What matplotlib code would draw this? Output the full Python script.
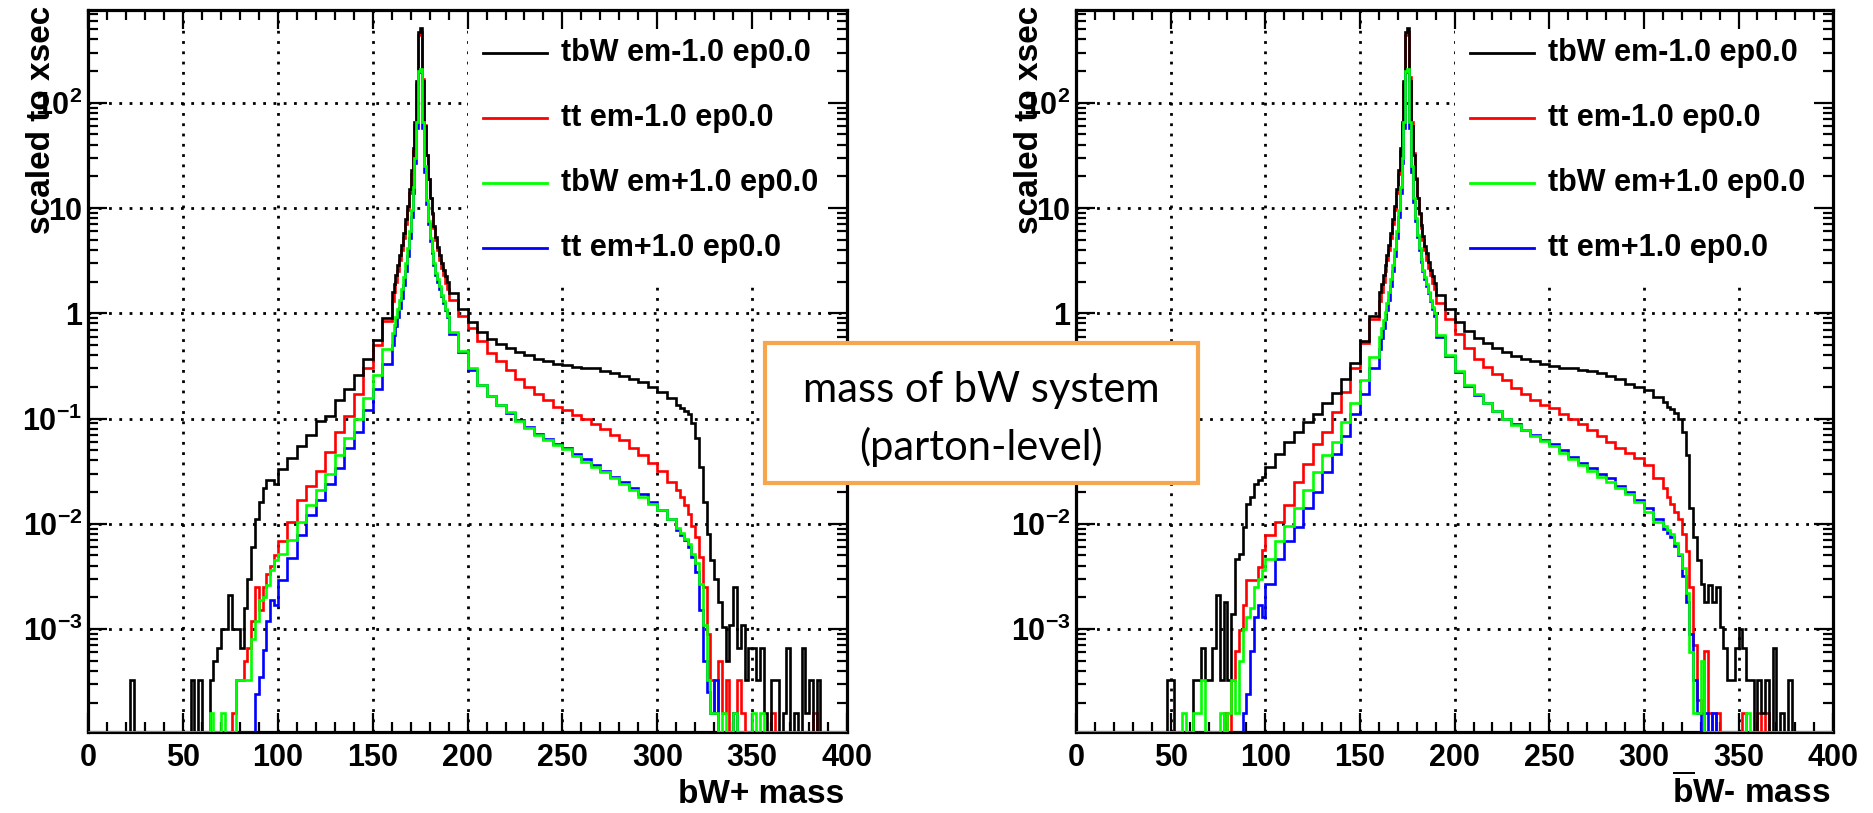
import matplotlib
matplotlib.use('Agg')
import matplotlib.pyplot as plt
from matplotlib.patches import Rectangle
from matplotlib.lines import Line2D
from matplotlib.ticker import MultipleLocator, LogLocator, FixedLocator, FixedFormatter, NullFormatter
import numpy as np

plt.rcParams['font.family'] = ['Liberation Sans', 'DejaVu Sans']
plt.rcParams['font.weight'] = 'bold'
plt.rcParams['mathtext.fontset'] = 'custom'
plt.rcParams['mathtext.rm'] = 'Liberation Sans:bold'
plt.rcParams['mathtext.bf'] = 'Liberation Sans:bold'
plt.rcParams['mathtext.it'] = 'Liberation Sans:bold'

# bin edges in GeV: 2 GeV below 100, 5 GeV to 160, 1 GeV around the peak, 5 GeV to 310, 2 GeV above
edges = np.concatenate([np.arange(0, 100, 2), np.arange(100, 160, 5), np.arange(160, 190, 1),
                        np.arange(190, 310, 5), np.arange(310, 401, 2)])

labels = ['tbW em-1.0 ep0.0', 'tt em-1.0 ep0.0', 'tbW em+1.0 ep0.0', 'tt em+1.0 ep0.0']
colors = ['#000000', '#ff0000', '#00ff00', '#0000ff']

y_ticks = [1e-3, 1e-2, 1e-1, 1, 10, 100]
y_ticklabels = [r'$\mathrm{10^{-3}}$', r'$\mathrm{10^{-2}}$', r'$\mathrm{10^{-1}}$', '1', '10', r'$\mathrm{10^{2}}$']

note_lines = ['mass of bW system', '(parton-level)']

# ---- left panel : bW+ mass ----
tbw_m_L = [
    0, 0, 0, 0, 0, 0, 0, 0, 0, 0, 0, 3.3e-4, 0, 0, 0, 0, 0, 0, 0, 0, 0, 0, 0, 0, 0, 0, 0,
    3.3e-4, 0, 3.3e-4, 0, 0, 3.3e-4, 5e-4, 6.6e-4, 1e-3, 1e-3, 2.1e-3, 1e-3, 1e-3, 6.6e-4, 1.6e-3,
    3e-3, 6e-3, 0.011, 0.016, 0.022, 0.026, 0.026, 0.024,
    0.033, 0.042, 0.055, 0.07, 0.095, 0.105, 0.15, 0.19, 0.26, 0.37, 0.56, 0.9,
    1.6, 1.9, 2.3, 2.9, 3.6, 4.5, 5.8, 7.8, 10.5, 15, 23, 37, 65, 160, 470, 510, 160, 60, 32, 19,
    12.5, 9, 6.8, 5.3, 4.3, 3.6, 3.0, 2.6, 2.25, 2.0,
    1.55, 1.1, 0.82, 0.66, 0.57, 0.51, 0.47, 0.43, 0.4, 0.37, 0.35, 0.33,
    0.32, 0.31, 0.305, 0.3, 0.285, 0.27, 0.255, 0.24, 0.22, 0.2, 0.18, 0.155,
    0.135, 0.125, 0.118, 0.11, 0.09, 0.065, 0.035, 0.016, 0.008, 0.0045, 0.003, 0.0018, 1.05e-3,
    5e-4, 1.1e-3, 2.5e-3, 6.6e-4, 1.1e-3, 3.3e-4, 6.6e-4, 6.6e-4, 3.3e-4, 6.6e-4, 1.6e-4, 0,
    3.3e-4, 3.3e-4, 0, 1.6e-4, 6.6e-4, 0, 1.6e-4, 0, 6.6e-4, 1.6e-4, 3.3e-4, 0, 3.3e-4, 0,
    0, 0, 0, 0, 0, 0,
]
tt_m_L = [
    0, 0, 0, 0, 0, 0, 0, 0, 0, 0, 0, 0, 0, 0, 0, 0, 0, 0, 0, 0, 0, 0, 0, 0, 0, 0, 0, 0, 0, 0,
    0, 0, 0, 0, 0, 0, 0, 0,
    1.6e-4, 3.3e-4, 3.3e-4, 5e-4, 6.6e-4, 1.2e-3, 2.5e-3, 1.5e-3, 2.5e-3, 3.3e-3, 4e-3, 5e-3,
    0.0068, 0.0105, 0.017, 0.023, 0.032, 0.048, 0.074, 0.105, 0.17, 0.3, 0.5, 0.85,
    1.3, 1.6, 2.0, 2.5, 3.2, 4.0, 5.2, 7.0, 9.5, 14, 21, 35, 62, 150, 440, 470, 170, 62, 32, 19,
    12.5, 8.8, 6.5, 5.0, 4.0, 3.2, 2.7, 2.3, 1.95, 1.7,
    1.34, 0.95, 0.72, 0.54, 0.42, 0.35, 0.29, 0.235, 0.2, 0.17, 0.15, 0.13,
    0.12, 0.108, 0.098, 0.089, 0.08, 0.07, 0.062, 0.053, 0.045, 0.038, 0.032, 0.025,
    0.021, 0.018, 0.015, 0.0125, 0.0095, 0.0075, 0.0048, 0.0025, 9e-4, 3.3e-4, 1.6e-4, 5e-4,
    1.6e-4, 3.3e-4, 0, 1.6e-4, 3.3e-4, 1.6e-4, 0, 0, 0, 0, 0, 0, 0, 1.6e-4,
    0, 0, 0, 0, 0, 0, 0, 0, 0, 0, 1.6e-4, 0, 0, 0, 0, 0, 0, 0, 0,
]
tbw_p_L = [
    0, 0, 0, 0, 0, 0, 0, 0, 0, 0, 0, 0, 0, 0, 0, 0, 0, 0, 0, 0, 0, 0, 0, 0, 0, 0, 0, 0, 0, 0,
    0, 0, 1.6e-4, 0, 0, 1.6e-4, 0, 0, 0, 3.3e-4, 3.3e-4, 3.3e-4, 3.3e-4, 8e-4, 1.2e-3, 1.9e-3,
    2e-3, 2.6e-3, 3.6e-3, 4.5e-3,
    5.2e-3, 7e-3, 0.0105, 0.015, 0.021, 0.03, 0.045, 0.066, 0.1, 0.155, 0.26, 0.46,
    0.65, 0.78, 0.92, 1.1, 1.35, 1.7, 2.2, 3.0, 4.2, 6.0, 9.5, 16, 30, 65, 200, 211, 65, 25, 12, 7.5,
    5.2, 3.9, 3.0, 2.4, 2.1, 1.8, 1.5, 1.3, 1.1, 0.95,
    0.66, 0.44, 0.3, 0.21, 0.165, 0.135, 0.115, 0.095, 0.082, 0.07, 0.063, 0.056,
    0.051, 0.044, 0.039, 0.035, 0.031, 0.027, 0.024, 0.021, 0.018, 0.0155, 0.0135, 0.0112,
    0.0092, 0.0082, 0.0072, 0.0064, 0.0052, 0.0042, 0.0027, 1.1e-3, 3.3e-4, 1.6e-4, 1.6e-4, 0,
    1.6e-4, 0, 0, 1.6e-4, 0, 0, 0, 0, 1.6e-4, 0, 1.6e-4,
    0, 0, 0, 0, 0, 0, 0, 0, 0, 0, 0, 0, 0, 0, 0, 0, 0, 0, 0, 0, 0, 0,
]
tt_p_L = [
    0, 0, 0, 0, 0, 0, 0, 0, 0, 0, 0, 0, 0, 0, 0, 0, 0, 0, 0, 0, 0, 0, 0, 0, 0, 0, 0, 0, 0, 0,
    0, 0, 0, 0, 0, 0, 0, 0, 0, 0, 0, 0, 0, 0,
    2.4e-4, 3.5e-4, 6.3e-4, 1.2e-3, 1.9e-3, 1.7e-3,
    2.9e-3, 4.7e-3, 7.8e-3, 0.012, 0.017, 0.024, 0.034, 0.052, 0.075, 0.12, 0.19, 0.33,
    0.5, 0.62, 0.76, 0.92, 1.12, 1.4, 1.85, 2.5, 3.5, 5.2, 8.2, 14, 27, 58, 195, 205, 58, 22, 11, 7,
    4.9, 3.7, 2.9, 2.3, 2.0, 1.7, 1.45, 1.25, 1.07, 0.92,
    0.64, 0.43, 0.29, 0.21, 0.165, 0.135, 0.114, 0.096, 0.083, 0.071, 0.064, 0.057,
    0.052, 0.046, 0.041, 0.036, 0.032, 0.028, 0.025, 0.022, 0.019, 0.016, 0.0135, 0.011,
    0.0088, 0.0078, 0.007, 0.006, 0.0048, 0.0035, 0.0015, 5e-4, 2.5e-4, 1.6e-4, 3.3e-4, 0,
    0, 0, 0, 1.6e-4,
    0, 0, 0, 0, 0, 0, 0, 0, 0, 0, 0, 0, 0, 0, 0, 0, 0, 0, 0, 0, 0, 0, 0, 0, 0, 0, 0, 0, 0,
]

# ---- right panel : bbarW- mass ----
tbw_m_R = [
    0, 0, 0, 0, 0, 0, 0, 0, 0, 0, 0, 0, 0, 0, 0, 0, 0, 0, 0, 0, 0, 0, 0, 0,
    3.3e-4, 3.3e-4, 0, 0, 0, 0, 0, 3.3e-4, 3.3e-4, 6.6e-4, 3.3e-4, 3.3e-4, 6.6e-4, 2.1e-3,
    3.3e-4, 1.8e-3, 3.3e-4, 1.4e-3, 4.6e-3, 5.2e-3, 9.3e-3, 0.0155, 0.018, 0.024, 0.026, 0.028,
    0.035, 0.046, 0.06, 0.075, 0.093, 0.11, 0.14, 0.175, 0.24, 0.34, 0.55, 0.95,
    1.6, 1.9, 2.3, 2.9, 3.6, 4.5, 5.8, 7.8, 10.5, 15, 23, 37, 65, 160, 470, 510, 160, 60, 32, 19,
    12.5, 9, 6.9, 5.4, 4.4, 3.7, 3.1, 2.6, 2.25, 1.95,
    1.5, 1.1, 0.83, 0.68, 0.58, 0.52, 0.47, 0.43, 0.39, 0.37, 0.35, 0.33,
    0.315, 0.305, 0.3, 0.29, 0.28, 0.27, 0.255, 0.235, 0.215, 0.2, 0.185, 0.16,
    0.145, 0.13, 0.122, 0.112, 0.1, 0.075, 0.045, 0.014, 0.0075, 0.0045, 0.0027, 0.0018, 0.0026,
    1.8e-3, 2.5e-3, 1.05e-3, 6.6e-4, 3.3e-4, 3.3e-4, 6.6e-4, 1e-3, 6.6e-4, 3.3e-4, 3.3e-4, 0,
    3.3e-4, 1.6e-4, 3.3e-4, 0, 6.6e-4, 0, 1.6e-4, 0, 3.3e-4,
    0, 0, 0, 0, 0, 0, 0, 0, 0, 0, 0,
]
tt_m_R = [
    0, 0, 0, 0, 0, 0, 0, 0, 0, 0, 0, 0, 0, 0, 0, 0, 0, 0, 0, 0, 0, 0, 0, 0, 0, 0, 0, 0, 0, 0,
    0, 0, 0, 0, 0, 0, 0, 0, 0,
    1.6e-4, 0, 3.3e-4, 6.2e-4, 9.7e-4, 1.7e-3, 2.9e-3, 2.9e-3, 2.9e-3, 3.9e-3, 5.6e-3,
    0.0078, 0.0105, 0.015, 0.025, 0.037, 0.057, 0.075, 0.115, 0.18, 0.3, 0.52, 0.88,
    1.3, 1.6, 2.0, 2.5, 3.2, 4.0, 5.2, 7.0, 9.5, 14, 21, 35, 62, 150, 440, 470, 175, 65, 33, 19.5,
    12.5, 8.8, 6.5, 5.0, 4.0, 3.2, 2.7, 2.3, 1.95, 1.7,
    1.25, 0.88, 0.64, 0.47, 0.37, 0.31, 0.265, 0.23, 0.195, 0.17, 0.15, 0.135,
    0.125, 0.11, 0.1, 0.088, 0.078, 0.068, 0.06, 0.052, 0.047, 0.042, 0.036, 0.027,
    0.022, 0.018, 0.0155, 0.013, 0.011, 0.008, 0.0055, 0.0025, 7e-4, 2.1e-4, 1.6e-4, 6.2e-4,
    1.6e-4, 0, 1.6e-4, 0, 0, 0, 0, 0, 0, 1.6e-4, 0, 0, 0, 1.6e-4, 0, 1.6e-4,
    0, 0, 0, 0, 0, 0, 0, 0, 0, 0, 0, 0, 0, 0, 0, 0, 0,
]
tbw_p_R = [
    0, 0, 0, 0, 0, 0, 0, 0, 0, 0, 0, 0, 0, 0, 0, 0, 0, 0, 0, 0, 0, 0, 0, 0, 0, 0, 0, 0,
    1.6e-4, 0, 0, 1.6e-4, 1.6e-4, 3.3e-4, 0, 0, 0, 0, 1.6e-4, 0, 1.6e-4, 3.3e-4, 1.6e-4, 5e-4,
    1e-3, 1.3e-3, 1.6e-3, 2.5e-3, 3e-3, 3.6e-3,
    4.6e-3, 6.8e-3, 0.0095, 0.014, 0.021, 0.031, 0.045, 0.06, 0.092, 0.14, 0.23, 0.38,
    0.6, 0.72, 0.86, 1.02, 1.25, 1.6, 2.1, 2.9, 4.1, 6.0, 9.5, 16, 30, 65, 200, 211, 65, 25, 12.5, 8,
    5.6, 4.2, 3.3, 2.6, 2.2, 1.9, 1.6, 1.35, 1.15, 1.0,
    0.62, 0.4, 0.28, 0.21, 0.17, 0.14, 0.117, 0.1, 0.087, 0.077, 0.068, 0.061,
    0.055, 0.047, 0.041, 0.036, 0.032, 0.028, 0.025, 0.022, 0.019, 0.016, 0.013, 0.0105,
    0.0095, 0.0087, 0.008, 0.0065, 0.0052, 0.0038, 0.0022, 6e-4, 1.6e-4, 1.6e-4, 5e-4,
    0, 0, 0, 0, 0, 0, 0, 0, 0, 0, 0, 1.6e-4,
    0, 0, 0, 0, 0, 0, 0, 0, 0, 0, 0, 0, 0, 0, 0, 0, 0, 0, 0, 0, 0, 0,
]
tt_p_R = [
    0, 0, 0, 0, 0, 0, 0, 0, 0, 0, 0, 0, 0, 0, 0, 0, 0, 0, 0, 0, 0, 0, 0, 0, 0, 0, 0, 0, 0, 0,
    0, 0, 0, 0, 0, 0, 0, 0, 0, 0, 0, 0, 0, 0,
    1.6e-4, 2.4e-4, 6.2e-4, 1.3e-3, 1.7e-3, 1.3e-3,
    2.7e-3, 4.6e-3, 6.8e-3, 9.3e-3, 0.014, 0.02, 0.031, 0.046, 0.068, 0.11, 0.17, 0.3,
    0.46, 0.58, 0.72, 0.88, 1.08, 1.35, 1.8, 2.5, 3.5, 5.2, 8.2, 14, 27, 58, 195, 205, 58, 22, 11.5, 7.5,
    5.3, 4.0, 3.1, 2.5, 2.1, 1.8, 1.55, 1.3, 1.1, 0.95,
    0.6, 0.39, 0.275, 0.205, 0.168, 0.14, 0.118, 0.1, 0.088, 0.078, 0.07, 0.063,
    0.057, 0.05, 0.043, 0.038, 0.034, 0.03, 0.027, 0.023, 0.02, 0.017, 0.014, 0.011,
    0.009, 0.0082, 0.0075, 0.0062, 0.005, 0.0032, 0.0018, 9e-4, 3.3e-4, 1.6e-4, 0, 1.6e-4, 0, 1.6e-4,
    0, 0, 0, 0, 0, 0, 0, 0, 0, 0, 0, 0, 0, 0, 0, 0, 0, 0, 0, 0, 0, 0, 0, 0, 0, 0, 0, 0, 0, 0, 0,
]

y_min, y_max = 1.05e-4, 760


def draw_panel(ax, series, xlabel):
    ax.set_yscale('log')
    ax.set_xlim(0, 400)
    ax.set_ylim(y_min, y_max)

    # histograms, drawn red, black, blue, green (green on top)
    for idx in [1, 0, 3, 2]:
        v = np.asarray(series[idx], dtype=float)
        ax.stairs(np.where(v > 0, v, y_min), edges, color=colors[idx], lw=1.9,
                  baseline=None, zorder=3)

    ax.xaxis.set_major_locator(MultipleLocator(50))
    ax.xaxis.set_minor_locator(MultipleLocator(10))
    ax.yaxis.set_major_locator(FixedLocator(y_ticks))
    ax.yaxis.set_major_formatter(FixedFormatter(y_ticklabels))
    ax.yaxis.set_minor_locator(LogLocator(base=10, subs=np.arange(2, 10), numticks=30))
    ax.yaxis.set_minor_formatter(NullFormatter())
    ax.tick_params(which='both', direction='in', top=True, right=True, width=1.6)
    ax.tick_params(which='major', length=14)
    ax.tick_params(which='minor', length=7)
    ax.tick_params(axis='x', which='major', labelsize=22, pad=8)
    ax.tick_params(axis='y', which='major', labelsize=22, pad=4)
    for sp in ax.spines.values():
        sp.set_linewidth(2.3)

    # dotted grid (below the legend box)
    for xv in ax.get_xticks():
        if 0 < xv < 400:
            ax.axvline(xv, color='k', lw=2.0, ls=(0, (1, 2.7)), zorder=0.5)
    for yv in y_ticks:
        ax.axhline(yv, color='k', lw=2.0, ls=(0, (1, 2.7)), zorder=0.5)

    # legend box
    ax.add_patch(Rectangle((0.5, 0.622), 0.5, 0.378, transform=ax.transAxes,
                           facecolor='white', edgecolor='none', zorder=1))
    for i, (lab, col) in enumerate(zip(labels, colors)):
        y = 0.941 - i * 0.0903
        ax.add_line(Line2D([0.52, 0.605], [y, y], transform=ax.transAxes, color=col, lw=2, zorder=5))
        ax.text(0.6235, y, lab, transform=ax.transAxes, ha='left', va='center', fontsize=22, zorder=5)

    ax.set_ylabel('scaled to xsec', loc='top', fontsize=24, fontweight='bold')
    ax.yaxis.set_label_coords(-0.041, 1.0055)
    ax.set_xlabel(xlabel, loc='right', fontsize=24, fontweight='bold', va='baseline')
    ax.xaxis.set_label_coords(0.996, -0.099)


fig = plt.figure(figsize=(18.74, 8.13), dpi=100)
ax1 = fig.add_axes([0.047, 0.0996, 0.405, 0.888])
ax2 = fig.add_axes([0.5742, 0.0996, 0.404, 0.888])

draw_panel(ax1, [tbw_m_L, tt_m_L, tbw_p_L, tt_p_L], 'bW+ mass')
draw_panel(ax2, [tbw_m_R, tt_m_R, tbw_p_R, tt_p_R], r'$\overline{\mathrm{b}}$W- mass')

# annotation box laid over both panels
fig.patches.append(Rectangle((0.4082, 0.4059), 0.2311, 0.1722, transform=fig.transFigure,
                             facecolor='white', edgecolor='#f7a650', lw=3, zorder=10))
for line, yf in zip(note_lines, [0.5203, 0.4502]):
    fig.text(0.5237, yf, line, ha='center', va='center', fontsize=30,
             family=['Lato', 'DejaVu Sans'], fontweight='normal', zorder=11)

fig.savefig('out.png', dpi=100)
